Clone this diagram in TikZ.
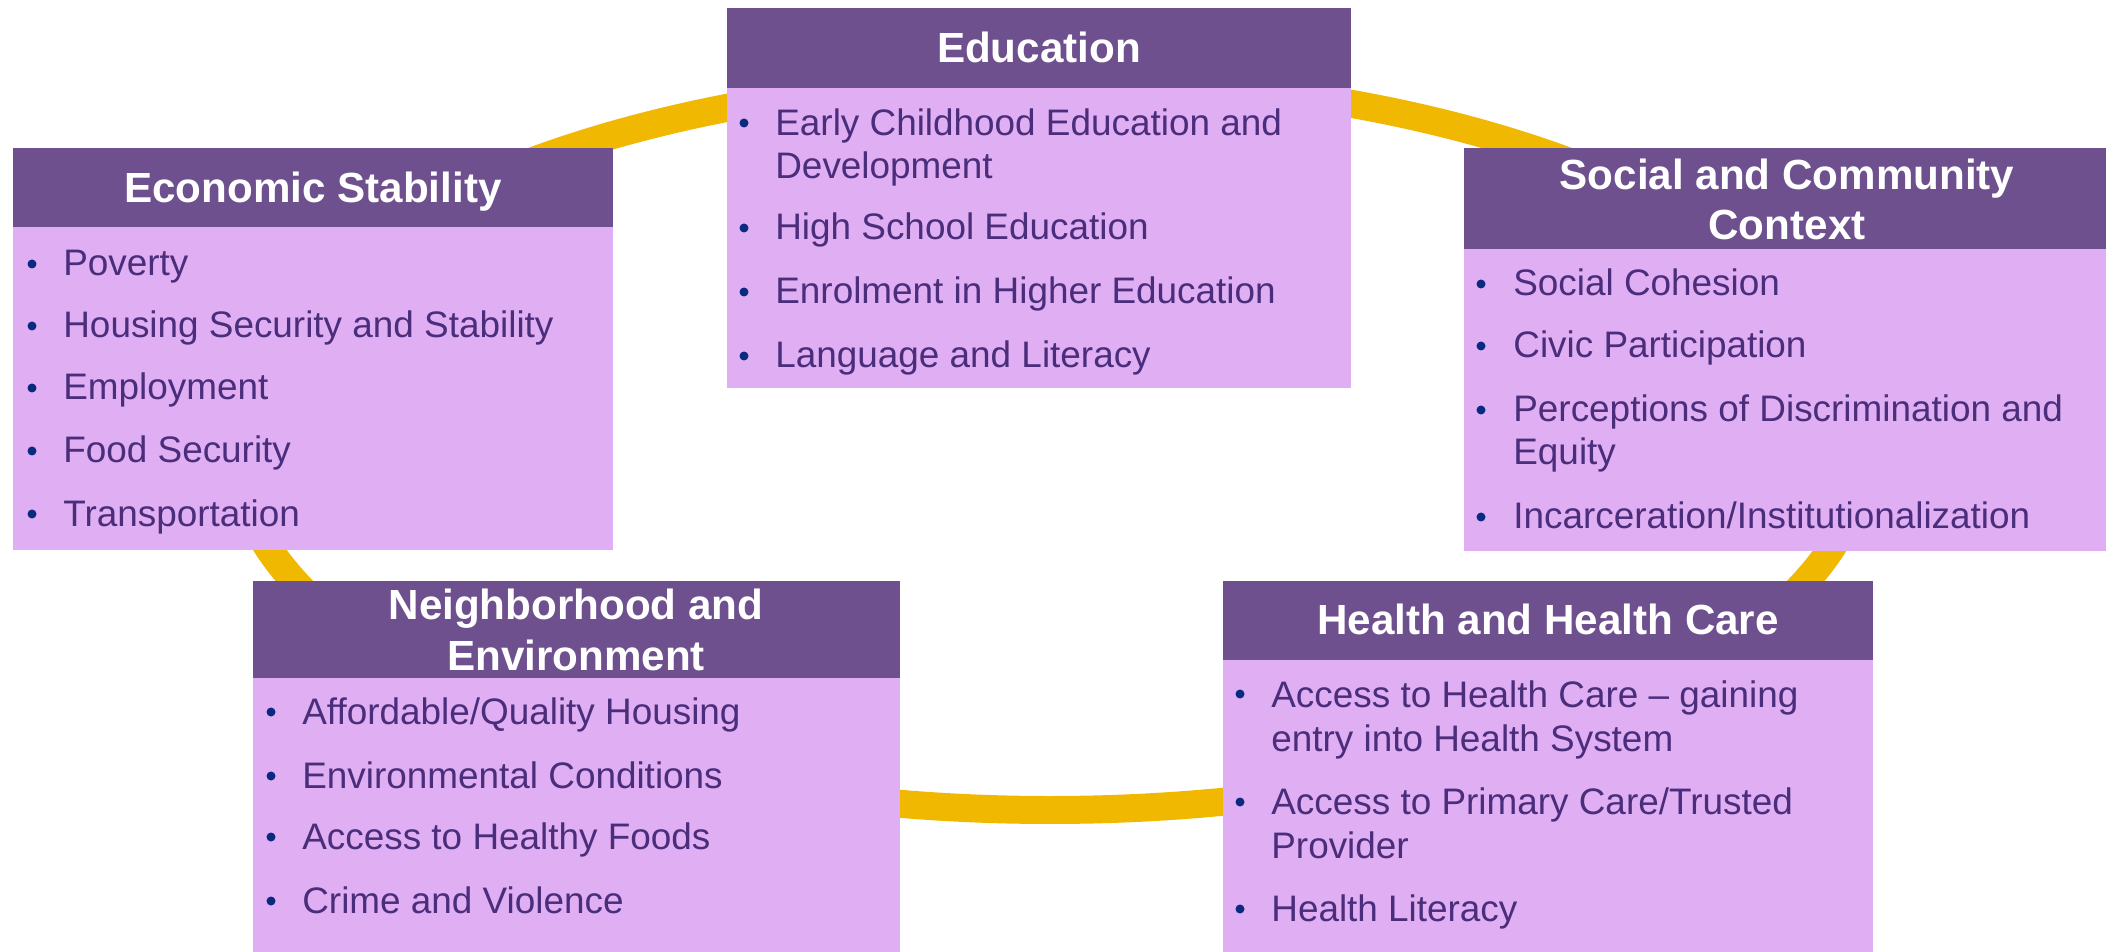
\documentclass[tikz,border=0pt]{standalone}
\usepackage{fontspec}
\setmainfont{Liberation Sans}
\usetikzlibrary{positioning}
\definecolor{ringgold}{HTML}{F0B800}
\definecolor{headpurple}{HTML}{6E508E}
\definecolor{bodylilac}{HTML}{E0AEF2}
\definecolor{itemtext}{HTML}{4A2D7B}
\definecolor{bulletblue}{HTML}{0A2A80}

\tikzset{
	title/.style={text=white, font=\fontsize{24}{28.5}\selectfont\bfseries, align=center, anchor=base, inner sep=0pt},
	item/.style={text=itemtext, font=\fontsize{21}{25}\selectfont, align=left, anchor=base west, inner sep=0pt},
	ring/.style={ringgold, line width=0.56cm}
}

\begin{document}
\begin{tikzpicture}[x=0.02cm, y=-0.02cm]
		\useasboundingbox (0,0) rectangle (2106,952);
		% ring behind the boxes
		\draw [ring] (1050,444) ellipse [x radius=815, y radius=366];
		% boxes: left/right/top/header bottom/bottom
		\foreach \xa/\xb/\ya/\yb/\yc in {13/613/148/227/550, 727/1351/8/88/388, 1464/2106/148/249/551, 253/900/581/678/952, 1223/1873/581/660/952}{
			\fill [headpurple] (\xa,\ya) rectangle (\xb,\yb);
			\fill [bodylilac] (\xa,\yb) rectangle (\xb,\yc);
		}
		
		% titles (base = last line)
		\node [title] (eco-title) at (313,203) {Economic Stability};
		\node [title] (edu-title) at (1039,63) {Education};
		\node [title] (soc-title) at (1787,240) {Social and Community\\Context};
		\node [title] (nbh-title) at (576,670) {Neighborhood and\\Environment};
		\node [title] (hlth-title) at (1548,634) {Health and Health Care};
		
		% items: bullet y / last baseline / text
		\foreach \b/\y/\t [count=\i] in {276/276/Poverty, 338/338/Housing Security and Stability, 400/400/Employment, 463/463/Food Security, 526/526/Transportation}{
			\node [item] (eco-\i) at (63,\y) {\t};
			\fill [bulletblue] (32,\b-12) circle (4.5);
		}
		\foreach \b/\y/\t [count=\i] in {135/179/{Early Childhood Education and\\Development}, 240/240/High School Education, 304/304/Enrolment in Higher Education, 368/368/Language and Literacy}{
			\node [item] (edu-\i) at (775,\y) {\t};
			\fill [bulletblue] (744,\b-12) circle (4.5);
		}
		\foreach \b/\y/\t [count=\i] in {296/296/Social Cohesion, 358/358/Civic Participation, 422/465/{Perceptions of Discrimination and\\Equity}, 529/529/{Incarceration/Institutionalization}}{
			\node [item] (soc-\i) at (1513,\y) {\t};
			\fill [bulletblue] (1481,\b-12) circle (4.5);
		}
		\foreach \b/\y/\t [count=\i] in {724/724/{Affordable/Quality Housing}, 788/788/Environmental Conditions, 849/849/Access to Healthy Foods, 913/913/Crime and Violence}{
			\node [item] (nbh-\i) at (302,\y) {\t};
			\fill [bulletblue] (271,\b-12) circle (4.5);
		}
		\foreach \b/\y/\t [count=\i] in {706/751/{Access to Health Care – gaining\\entry into Health System}, 814/858/{Access to Primary Care/Trusted\\Provider}, 921/921/Health Literacy}{
			\node [item] (hlth-\i) at (1271,\y) {\t};
			\fill [bulletblue] (1240,\b-12) circle (4.5);
		}
	\end{tikzpicture}
\end{document}
